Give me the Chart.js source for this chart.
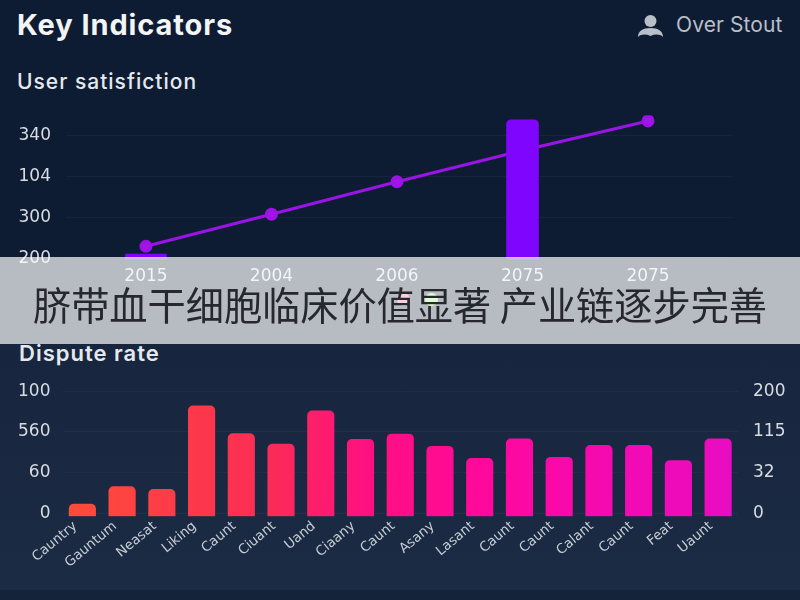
<!DOCTYPE html>
<html>
<head>
<meta charset="utf-8">
<script src="https://cdn.jsdelivr.net/npm/chart.js@4"></script>
<style>
html,body{margin:0;padding:0;}
body{width:800px;height:600px;overflow:hidden;position:relative;background:#0e1c33;font-family:Inter,sans-serif;}
canvas{position:absolute;left:0;}
#panel{position:absolute;left:0;top:344px;width:800px;height:246px;background:linear-gradient(#17263e,#1b2b43);}
#foot{position:absolute;left:0;top:590px;width:800px;height:10px;background:#14233a;}
.txt{position:absolute;white-space:nowrap;}
#title{left:17px;top:9px;font-size:29px;line-height:32px;font-weight:700;letter-spacing:.9px;color:#f2f4f6;}
#user{left:676px;top:13px;font-size:21px;line-height:24px;letter-spacing:.1px;color:#b8bfc9;}
#sub1{left:17px;top:70px;font-size:21px;line-height:24px;font-weight:500;letter-spacing:1px;color:#e6e9ec;}
#sub2{left:19px;top:341px;font-size:22px;line-height:24px;font-weight:600;letter-spacing:1px;color:#e6e9ec;}
#icon{position:absolute;left:637px;top:14px;}
.dot{position:absolute;top:293px;width:13px;height:13px;border-radius:50%;}
#banner{position:absolute;left:0;top:257px;width:800px;height:87px;background:rgba(255,255,255,.7);color:#26282d;font-family:"Noto Sans CJK SC",sans-serif;font-size:38.2px;line-height:93px;text-align:center;white-space:nowrap;}
</style>
</head>
<body>
<div id="panel"></div>
<div id="foot"></div>
<div class="txt" id="title">Key Indicators</div>
<svg id="icon" width="27" height="24" viewBox="0 0 27 24"><circle cx="13.5" cy="7" r="6" fill="#b8bfc9"/><path d="M1 23c0-6 5-9 12.500-9s12.500 3 12.500 9c-3-3-8-3-12.500-1-4.500-2-9.500-2-12.500 1z" fill="#b8bfc9"/></svg>
<div class="txt" id="user">Over Stout</div>
<div class="txt" id="sub1">User satisfiction</div>
<canvas id="top" width="800" height="210" style="top:90px"></canvas>
<div class="dot" style="left:397px;background:#ff5f9a"></div>
<div class="dot" style="left:425px;background:#8dff5a"></div>
<div class="txt" id="sub2">Dispute rate</div>
<canvas id="bottom" width="800" height="231" style="top:369px"></canvas>
<div id="banner">脐带血干细胞临床价值显著 产业链逐步完善</div>
<script>
// top chart, values are read against the tick rows (row 0 = lowest tick)
let topYears=["2015","2004","2006","2075","2075"];
let topTicks=["200","300","104","340"];
let lineValues=[0.31,1.09,1.88,2.64,3.36];
let wideBar=[0.12,null,null,null,null];
let tallBar=[null,null,null,3.39,null];

// bottom chart
let disputeLabels=["Cauntry","Gauntum","Neasat","Liking","Caunt","Ciuant","Uand","Ciaany","Caunt","Asany","Lasant","Caunt","Caunt","Calant","Caunt","Feat","Uaunt"];
let disputeValues=[0.23,0.66,0.59,2.64,1.96,1.70,2.52,1.82,1.95,1.65,1.35,1.83,1.38,1.67,1.67,1.30,1.83];
let leftTicks=["0","60","560","100"];
let rightTicks=["0","32","115","200"];

let grid="rgba(255,255,255,0.035)";
let tickFont={family:"DejaVu Sans",size:17};

function points(values){
return values.map((v,i)=>({x:i,y:v}));
}

function barGradient(ctx){
let chart=ctx.chart;
if(!chart.chartArea) return "#ff2060";
let g=chart.ctx.createLinearGradient(chart.chartArea.left,0,chart.chartArea.right,0);
g.addColorStop(0,"#ff4d38");
g.addColorStop(0.3,"#fb2d55");
g.addColorStop(0.45,"#ff1080");
g.addColorStop(0.65,"#ff08a0");
g.addColorStop(1,"#e80cc2");
return g;
}

new Chart(document.getElementById("top").getContext("2d"),{
type:"bar",
data:{
datasets:[
{type:"line",data:points(lineValues),borderColor:"#9a14e6",backgroundColor:"#a414e6",borderWidth:3,pointRadius:5,pointHoverRadius:5,tension:0,order:2},
{data:points(wideBar),backgroundColor:"#7f05ff",barThickness:41,borderRadius:1,grouped:false,order:1},
{data:points(tallBar),backgroundColor:"#7f05ff",barThickness:32,borderRadius:5,grouped:false,order:1}
]
},
options:{
responsive:false,
animation:false,
layout:{padding:{top:5,right:67}},
plugins:{legend:{display:false},tooltip:{enabled:false}},
scales:{
x:{
type:"linear",
offset:false,
min:-0.637,
max:4.677,
grid:{display:false},
border:{display:false},
afterBuildTicks:(s)=>{s.ticks=topYears.map((y,i)=>({value:i}));},
afterFit:(s)=>{s.height=41;},
ticks:{color:"#d8dce2",font:tickFont,padding:-1,maxRotation:0,autoSkip:false,callback:(v)=>topYears[v]}
},
y:{
min:0,
max:3.5,
grid:{color:grid,drawTicks:false},
border:{display:false},
afterFit:(s)=>{s.width=66;},
ticks:{color:"#d8dce2",font:tickFont,padding:15,stepSize:1,callback:(v)=>topTicks[v]}
}
}
}
});

new Chart(document.getElementById("bottom").getContext("2d"),{
type:"bar",
data:{
labels:disputeLabels,
datasets:[{data:disputeValues,backgroundColor:barGradient,barThickness:26.5,borderRadius:5,base:-0.07}]
},
options:{
responsive:false,
animation:false,
layout:{padding:{top:19.5}},
plugins:{legend:{display:false},tooltip:{enabled:false}},
scales:{
x:{
grid:{display:false},
border:{display:false},
afterFit:(s)=>{s.height=83.7;},
ticks:{color:"#c6ccd5",font:{family:"DejaVu Sans",size:13.5},padding:-6,labelOffset:-7,minRotation:40,maxRotation:40,autoSkip:false}
},
y:{
min:-0.07,
max:3,
grid:{color:grid,drawTicks:false},
border:{display:false},
afterBuildTicks:(s)=>{s.ticks=leftTicks.map((t,i)=>({value:i}));},
afterFit:(s)=>{s.width=62.5;},
ticks:{color:"#d8dce2",font:tickFont,padding:12,callback:(v)=>leftTicks[v]}
},
y2:{
position:"right",
min:-0.07,
max:3,
grid:{display:false},
border:{display:false},
afterBuildTicks:(s)=>{s.ticks=rightTicks.map((t,i)=>({value:i}));},
afterFit:(s)=>{s.width=62;},
ticks:{color:"#d8dce2",font:tickFont,padding:7,callback:(v)=>rightTicks[v]}
}
}
}
});
</script>
</body>
</html>
